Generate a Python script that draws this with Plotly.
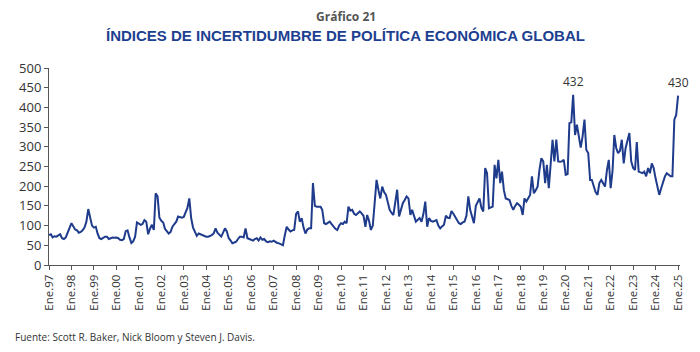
import pandas as pd
import plotly.graph_objects as go

# Monthly Global EPU index values (Jan 1997 - Jan 2025)
y1997 = [76, 78, 70, 73, 72, 74, 78, 68, 66, 70, 82, 95]
y1998 = [106, 98, 90, 88, 82, 84, 88, 95, 110, 142, 118, 100]
y1999 = [95, 97, 80, 68, 66, 70, 72, 72, 66, 68, 70, 69]
y2000 = [70, 68, 64, 63, 66, 86, 88, 70, 56, 60, 72, 108]
y2001 = [104, 102, 104, 114, 110, 78, 92, 102, 89, 182, 174, 120]
y2002 = [112, 108, 92, 85, 80, 84, 97, 104, 110, 123, 121, 120]
y2003 = [122, 136, 145, 169, 119, 95, 85, 74, 80, 78, 76, 74]
y2004 = [72, 72, 73, 76, 80, 93, 82, 76, 72, 82, 93, 85]
y2005 = [68, 62, 55, 57, 59, 66, 72, 72, 70, 93, 68, 66]
y2006 = [64, 62, 66, 68, 62, 70, 64, 66, 60, 58, 60, 59]
y2007 = [62, 58, 56, 55, 52, 50, 75, 97, 90, 85, 88, 89]
y2008 = [130, 136, 110, 119, 95, 80, 90, 93, 93, 208, 150, 148]
y2009 = [148, 148, 140, 106, 104, 108, 110, 104, 97, 92, 89, 100]
y2010 = [106, 104, 110, 106, 148, 138, 140, 130, 127, 132, 136, 131]
y2011 = [125, 97, 127, 112, 89, 100, 150, 216, 190, 169, 199, 185]
y2012 = [178, 160, 140, 132, 127, 160, 191, 123, 140, 157, 165, 174]
y2013 = [169, 127, 140, 125, 110, 115, 119, 110, 130, 161, 97, 119]
y2014 = [112, 110, 112, 114, 100, 93, 98, 102, 125, 120, 119, 137]
y2015 = [130, 120, 114, 106, 104, 108, 110, 125, 174, 140, 120, 106]
y2016 = [150, 160, 169, 145, 136, 246, 233, 144, 146, 148, 254, 220]
y2017 = [267, 208, 237, 190, 169, 167, 165, 150, 140, 150, 157, 153]
y2018 = [148, 127, 169, 161, 170, 178, 225, 182, 190, 199, 242, 271]
y2019 = [263, 208, 254, 195, 255, 318, 263, 318, 263, 262, 263, 267]
y2020 = [229, 231, 360, 362, 432, 330, 356, 326, 298, 326, 369, 292]
y2021 = [284, 216, 216, 200, 185, 178, 208, 216, 205, 199, 240, 267]
y2022 = [195, 240, 330, 297, 284, 290, 318, 258, 297, 320, 335, 263]
y2023 = [246, 241, 312, 237, 235, 233, 237, 225, 246, 233, 258, 246]
y2024 = [220, 200, 178, 195, 212, 225, 233, 228, 225, 225, 369, 381]
y2025 = [430]

years = list(range(1997, 2026))
tick_labels = ["Ene.%02d" % (y % 100) for y in years]
annot_labels = ["432", "430"]

values = (y1997 + y1998 + y1999 + y2000 + y2001 + y2002 + y2003 + y2004 + y2005
          + y2006 + y2007 + y2008 + y2009 + y2010 + y2011 + y2012 + y2013 + y2014
          + y2015 + y2016 + y2017 + y2018 + y2019 + y2020 + y2021 + y2022 + y2023
          + y2024 + y2025)
dates = pd.date_range("1997-01-01", periods=len(values), freq="MS")

LINE = "#1f3b8c"
TXT = "#333333"

fig = go.Figure()
fig.add_trace(go.Scatter(x=dates, y=values, mode="lines",
                         line=dict(color=LINE, width=2), hoverinfo="skip"))

# peak labels
i_max = values.index(432)
for idx, lab in [(i_max, annot_labels[0]), (len(values) - 1, annot_labels[1])]:
    fig.add_annotation(x=dates[idx], y=values[idx], text=lab, showarrow=False,
                       yshift=13, font=dict(family="Open Sans", size=12, color=TXT))

tickvals = [pd.Timestamp(f"{y}-01-01") for y in years]

fig.update_layout(
    width=700, height=352,
    margin=dict(l=49, r=20, t=68, b=87),
    paper_bgcolor="white", plot_bgcolor="white",
    showlegend=False,
    xaxis=dict(
        range=[pd.Timestamp("1997-01-01"), pd.Timestamp("2025-02-01")],
        tickvals=tickvals, ticktext=tick_labels, tickangle=-90,
        showgrid=False, zeroline=False,
        showline=True, linecolor="#555555", linewidth=1,
        ticks="outside", ticklen=4, tickcolor="#555555",
        tickfont=dict(family="Open Sans", size=11.5, color=TXT),
    ),
    yaxis=dict(
        range=[0, 500], tickvals=list(range(0, 501, 50)),
        showgrid=False, zeroline=False,
        showline=True, linecolor="#555555", linewidth=1,
        ticks="outside", ticklen=4, tickcolor="#555555",
        tickfont=dict(family="Open Sans", size=13, color=TXT),
    ),
)

fig.add_annotation(xref="paper", yref="paper", x=0.470, y=(265 - 17) / 196.5,
                   yanchor="middle",
                   text="<b>Gráfico 21</b>", showarrow=False,
                   font=dict(family="Open Sans", size=12, color="#555555"))
fig.add_annotation(xref="paper", yref="paper", x=0.470, y=(265 - 36) / 196.5,
                   yanchor="middle",
                   text="<b>ÍNDICES DE INCERTIDUMBRE DE POLÍTICA ECONÓMICA GLOBAL</b>",
                   showarrow=False,
                   font=dict(family="Liberation Sans, Arial, sans-serif",
                             size=15, color="#1d3f91"))
fig.add_annotation(xref="paper", yref="paper", x=(13 - 49) / 631, xanchor="left",
                   y=(265 - 337) / 196.5, yanchor="middle",
                   text="Fuente: Scott R. Baker, Nick Bloom y Steven J. Davis.",
                   showarrow=False,
                   font=dict(family="Open Sans", size=10, color=TXT))

fig.write_html("out.html")
